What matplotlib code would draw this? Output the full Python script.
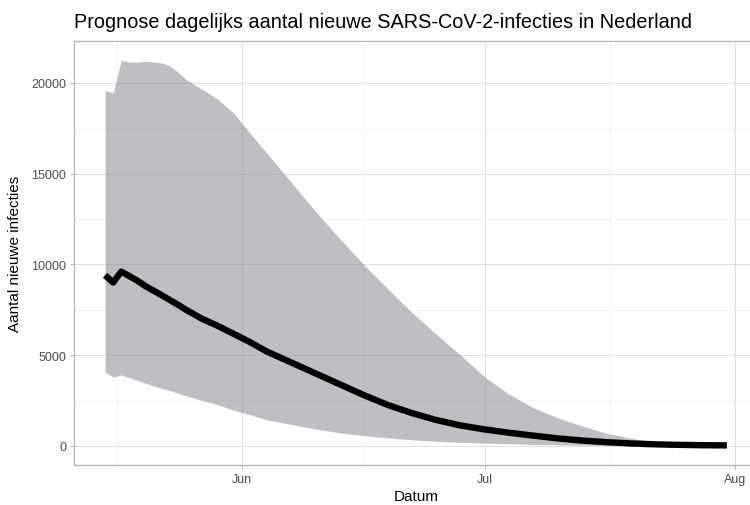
"""Prognose dagelijks aantal nieuwe SARS-CoV-2-infecties in Nederland (ribbon + mean line)."""

import matplotlib
matplotlib.use("Agg")
import matplotlib.pyplot as plt
import matplotlib.dates as mdates
from matplotlib.ticker import FixedLocator
import pandas as pd

# --- data ---
dates = pd.to_datetime([
    "2020-05-15", "2020-05-16", "2020-05-17", "2020-05-18", "2020-05-19",
    "2020-05-20", "2020-05-21", "2020-05-22", "2020-05-23", "2020-05-24",
    "2020-05-25", "2020-05-27", "2020-05-29", "2020-05-31", "2020-06-02",
    "2020-06-04", "2020-06-07", "2020-06-10", "2020-06-13", "2020-06-16",
    "2020-06-19", "2020-06-22", "2020-06-25", "2020-06-28", "2020-07-01",
    "2020-07-04", "2020-07-07", "2020-07-10", "2020-07-13", "2020-07-16",
    "2020-07-19", "2020-07-22", "2020-07-25", "2020-07-28", "2020-07-31",
])
mean_inf = [9400, 9000, 9600, 9350, 9100,
            8800, 8550, 8300, 8040, 7780,
            7500, 7000, 6600, 6150, 5700,
            5200, 4600, 4000, 3400, 2800,
            2250, 1800, 1420, 1120, 900,
            720, 560, 410, 290, 200,
            130, 80, 50, 30, 20]
lower_inf = [4050, 3800, 3900, 3750, 3600,
             3450, 3300, 3170, 3040, 2900,
             2760, 2500, 2250, 1950, 1700,
             1430, 1180, 920, 720, 560,
             430, 330, 250, 190, 150,
             110, 80, 55, 35, 22,
             14, 9, 5, 3, 2]
upper_inf = [19600, 19450, 21250, 21150, 21150,
             21200, 21150, 21100, 20950, 20600,
             20200, 19650, 19100, 18300, 17200,
             16150, 14550, 12950, 11450, 10000,
             8650, 7350, 6150, 5000, 3800,
             2850, 2100, 1550, 1100, 700,
             420, 220, 90, 30, 10]

y_ticks = [0, 5000, 10000, 15000, 20000]
y_minor = [2500, 7500, 12500, 17500]

plt.rcParams["font.family"] = ["Liberation Sans", "DejaVu Sans"]

W, H = 750, 506
fig = plt.figure(figsize=(W / 100, H / 100), dpi=100)
# panel runs a bit past the right edge of the picture, as in the reference
ax = fig.add_axes([74 / W, (H - 466) / H, (758 - 74) / W, (466 - 42) / H])

ax.fill_between(dates, lower_inf, upper_inf, color="#817F89", alpha=0.5, lw=0, zorder=2)
ax.plot(dates, mean_inf, color="black", lw=4.6, solid_capstyle="butt",
        solid_joinstyle="round", zorder=3)
ax.margins(x=0.05, y=0.05)

# x axis: month breaks, minor breaks halfway
majors = pd.to_datetime(["2020-05-01", "2020-06-01", "2020-07-01", "2020-08-01"])
mids = [mdates.date2num(a) + (mdates.date2num(b) - mdates.date2num(a)) / 2
        for a, b in zip(majors[:-1], majors[1:])]
ax.xaxis.set_major_locator(mdates.MonthLocator())
ax.xaxis.set_major_formatter(mdates.DateFormatter("%b"))
ax.xaxis.set_minor_locator(FixedLocator(mids))
ax.yaxis.set_major_locator(FixedLocator(y_ticks))
ax.yaxis.set_minor_locator(FixedLocator(y_minor))
ax.set_yticklabels([str(v) for v in y_ticks])

# theme_light look
ax.set_axisbelow(True)
ax.grid(which="major", color="#DEDEDE", lw=0.7)
ax.grid(which="minor", color="#EBEBEB", lw=0.4)
for s in ax.spines.values():
    s.set_color("#B3B3B3")
    s.set_linewidth(0.9)
ax.tick_params(which="major", length=3, width=0.7, color="#B3B3B3",
               labelsize=9, labelcolor="#4D4D4D", pad=2.5)
ax.tick_params(which="minor", length=0)

ax.set_xlabel("Datum", fontsize=11, labelpad=3)
ax.set_ylabel("Aantal nieuwe infecties", fontsize=11, labelpad=7)

fig.text(74 / W, 1 - 28 / H,
         "Prognose dagelijks aantal nieuwe SARS-CoV-2-infecties in Nederland",
         fontsize=14.3, ha="left", va="baseline")

fig.savefig("out.png", dpi=100, facecolor="white")
